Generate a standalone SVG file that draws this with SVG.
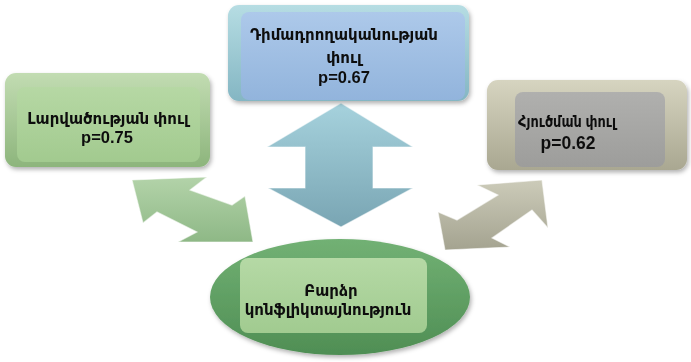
<svg xmlns="http://www.w3.org/2000/svg" width="691" height="362" viewBox="0 0 691 362">
<style>
.t{font-family:"Liberation Sans","DejaVu Sans",sans-serif;font-weight:bold;font-size:15px;fill:#111;text-anchor:middle}
.p{font-size:16.5px}
.arr{stroke:#ffffff;stroke-opacity:0.55;stroke-width:1.2;stroke-linejoin:miter}
.box{filter:url(#sh)}
</style>
<defs>
<filter id="sh" x="-10%" y="-10%" width="125%" height="130%">
<feDropShadow dx="1.5" dy="2.5" stdDeviation="2" flood-color="#000" flood-opacity="0.3"/>
</filter>
<linearGradient id="gOut" x1="0" y1="0" x2="0" y2="1"><stop offset="0" stop-color="#c2dcb2"/><stop offset="1" stop-color="#8db57c"/></linearGradient>
<linearGradient id="gIn" x1="0" y1="0" x2="0" y2="1"><stop offset="0" stop-color="#b6d8a4"/><stop offset="1" stop-color="#a2ca8f"/></linearGradient>
<linearGradient id="bOut" x1="0" y1="0" x2="0" y2="1"><stop offset="0" stop-color="#b6dde3"/><stop offset="1" stop-color="#84b6c3"/></linearGradient>
<linearGradient id="bIn" x1="0" y1="0" x2="0" y2="1"><stop offset="0" stop-color="#adc9ea"/><stop offset="1" stop-color="#92b4dc"/></linearGradient>
<linearGradient id="kOut" x1="0" y1="0" x2="0" y2="1"><stop offset="0" stop-color="#d6d4c0"/><stop offset="1" stop-color="#a9a791"/></linearGradient>
<linearGradient id="kIn" x1="0" y1="0" x2="0" y2="1"><stop offset="0" stop-color="#b0b0ae"/><stop offset="1" stop-color="#9d9d9b"/></linearGradient>
<linearGradient id="eOut" x1="0" y1="0" x2="0" y2="1"><stop offset="0" stop-color="#72b174"/><stop offset="1" stop-color="#4f8e54"/></linearGradient>
<linearGradient id="eIn" x1="0" y1="0" x2="0" y2="1"><stop offset="0" stop-color="#b5d9a5"/><stop offset="1" stop-color="#a1cb90"/></linearGradient>
<linearGradient id="aV" x1="0" y1="0" x2="0" y2="1"><stop offset="0" stop-color="#a6d2dd"/><stop offset="1" stop-color="#79a5b3"/></linearGradient>
<linearGradient id="aL" x1="0" y1="0" x2="0" y2="1"><stop offset="0" stop-color="#b3d3a9"/><stop offset="1" stop-color="#8eb886"/></linearGradient>
<linearGradient id="aR" x1="0" y1="0" x2="0" y2="1"><stop offset="0" stop-color="#cccbb9"/><stop offset="1" stop-color="#a4a390"/></linearGradient>
</defs>
<rect width="691" height="362" fill="#ffffff"/>
<g id="connectors">
<polygon class="arr" fill="url(#aV)" points="341,103 413,147 373,147 373,188 413,188 341,227 268,188 305,188 305,147 267,147"/>
<polygon class="arr" fill="url(#aL)" points="132,180 207,177 190,190 232,205 245,196 253,242 178,242 197,232 157,212 143,223"/>
<polygon class="arr" fill="url(#aR)" points="542,180 548,228 532,210 492,238 510,247 445,250 438,212 457,220 498,195 477,185"/>
</g>
<g id="node-left" class="box">
<rect x="5" y="73" width="205" height="94" rx="11" fill="url(#gOut)"/>
<rect x="17" y="87" width="183" height="75" rx="8" fill="url(#gIn)"/>
<text class="t" x="108" y="124">Լարվածության փուլ</text>
<text class="t p" x="107" y="143">p=0.75</text>
</g>
<g id="node-top" class="box">
<rect x="228" y="5" width="241" height="96" rx="11" fill="url(#bOut)"/>
<rect x="241" y="12" width="224" height="88" rx="8" fill="url(#bIn)"/>
<text class="t" x="344" y="40">Դիմադրողականության</text>
<text class="t" x="344" y="63">փուլ</text>
<text class="t p" x="344" y="83">p=0.67</text>
</g>
<g id="node-right" class="box">
<rect x="487" y="80" width="200" height="90" rx="11" fill="url(#kOut)"/>
<rect x="515" y="92" width="150" height="75" rx="8" fill="url(#kIn)"/>
<text class="t" x="567" y="127" style="font-size:15.5px" textLength="98" lengthAdjust="spacingAndGlyphs">Հյուծման փուլ</text>
<text class="t" x="568" y="149" style="font-size:17.5px">p=0.62</text>
</g>
<g id="node-center" class="box">
<ellipse cx="340" cy="297" rx="130" ry="58" fill="url(#eOut)"/>
<rect x="240" y="258" width="187" height="75" rx="8" fill="url(#eIn)"/>
<text class="t" x="331" y="296">Բարձր</text>
<text class="t" x="328" y="315">կոնֆլիկտայնություն</text>
</g>
</svg>
